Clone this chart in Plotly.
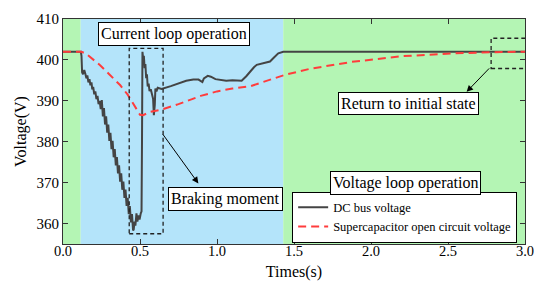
import plotly.graph_objects as go

# DC bus voltage
dc_t = [0.0, 0.116, 0.12, 0.124, 0.13, 0.138, 0.145, 0.152, 0.158, 0.165, 0.172, 0.178, 0.185,
        0.19, 0.196, 0.203, 0.21, 0.217, 0.224, 0.231, 0.238, 0.245,
        0.252, 0.259, 0.266, 0.273, 0.280, 0.287, 0.294, 0.301, 0.308, 0.315, 0.322, 0.329,
        0.336, 0.343, 0.350, 0.357, 0.364, 0.371, 0.378, 0.385, 0.392, 0.399, 0.406, 0.413,
        0.420, 0.427, 0.434, 0.441, 0.448, 0.455,
        0.459, 0.465, 0.47, 0.477, 0.483, 0.49, 0.497, 0.505, 0.51, 0.513, 0.516, 0.52, 0.525,
        0.53, 0.535, 0.54, 0.545, 0.55, 0.556, 0.562, 0.57, 0.578, 0.585, 0.59, 0.596, 0.6,
        0.607, 0.615, 0.64, 0.7, 0.75, 0.8, 0.846, 0.88, 0.905, 0.915, 0.94, 0.96, 0.99, 1.02,
        1.06, 1.1, 1.16, 1.19, 1.214, 1.24, 1.258, 1.3, 1.344, 1.37, 1.398, 1.43, 3.0]
dc_v = [402.0, 402.0, 401.0, 397.0, 396.5, 397.5, 396.6, 395.5, 396.2, 394.5, 395.3, 393.8, 394.5,
        392.8, 393.4, 391.6, 392.3, 390.4, 391.2, 389.2, 390.0, 388.0,
        390.2, 386.2, 388.2, 384.2, 386.2, 382.2, 384.2, 380.2, 382.2, 378.2, 380.2, 376.2,
        378.2, 374.2, 376.25, 372.25, 374.25, 370.25, 372.25, 368.25, 370.25, 366.25, 368.3, 364.3,
        366.3, 362.3, 364.3, 360.3, 362.3, 358.3,
        358.5, 360.5, 359.5, 362.5, 360.5, 362.0, 361.0, 362.5, 363.0, 380.0, 402.0, 400.5, 401.0,
        398.0, 399.0, 395.5, 396.5, 393.5, 394.2, 392.4, 392.8, 391.0, 390.5, 386.5, 389.0, 393.0,
        392.3, 393.2, 392.9, 393.6, 394.3, 394.9, 395.2, 395.2, 394.6, 395.5, 396.1, 395.9, 395.3, 395.1,
        394.9, 395.0, 394.9, 396.0, 397.1, 398.2, 398.8, 399.2, 399.6, 400.6, 401.6, 402.0, 402.0]

# Supercapacitor open circuit voltage
sc_t = [0.0, 0.12, 0.15, 0.2, 0.241, 0.3, 0.372, 0.42, 0.46, 0.5, 0.52, 0.567, 0.644, 0.75,
        0.894, 1.0, 1.1, 1.22, 1.3, 1.437, 1.6, 1.872, 2.2, 2.525, 2.8, 3.0]
sc_v = [402.0, 402.0, 401.5, 400.0, 398.7, 396.5, 393.8, 391.5, 389.0, 386.6, 386.5, 387.3, 387.9,
        389.2, 391.2, 392.3, 393.0, 393.6, 394.6, 396.3, 397.8, 399.5, 400.9, 401.6, 401.9, 402.0]

# operating regions (time, s)
region_edges = [0.0, 0.115, 1.43, 3.0]
region_colors = ["#b4f5b4", "#b4e4fa", "#b4f5b4"]

FONT = "Liberation Serif"

fig = go.Figure()
fig.add_trace(go.Scatter(x=dc_t, y=dc_v, mode="lines", name="DC bus voltage",
                         line=dict(color="#444444", width=2)))
fig.add_trace(go.Scatter(x=sc_t, y=sc_v, mode="lines", name="Supercapacitor open circuit voltage",
                         line=dict(color="#ff3c3c", width=2, dash="8px,5px")))

for i in range(3):
    fig.add_shape(type="rect", xref="x", yref="paper", x0=region_edges[i], x1=region_edges[i + 1],
                  y0=0, y1=1, fillcolor=region_colors[i], line_width=0, layer="below")

# dashed highlight boxes
fig.add_shape(type="rect", x0=0.43, x1=0.65, y0=357.5, y1=402.8,
              line=dict(color="#222222", width=1.3, dash="4px,3px"))
fig.add_shape(type="rect", x0=2.78, x1=3.02, y0=397.9, y1=405.3,
              line=dict(color="#222222", width=1.3, dash="4px,3px"))

box = dict(bgcolor="white", bordercolor="black", borderwidth=1, borderpad=2,
           font=dict(family=FONT, size=16, color="black"))
fig.add_annotation(x=0.72, y=406.4, text="Current loop operation", showarrow=False, **box)
fig.add_annotation(x=1.058, y=365.9, text="Braking moment", showarrow=False, **box)
fig.add_annotation(x=2.227, y=370.0, text="Voltage loop operation", showarrow=False, **box)
fig.add_annotation(x=2.245, y=389.3, text="Return to initial state", showarrow=False, **box)

arrow = dict(text="", showarrow=True, arrowhead=2, arrowsize=1.3, arrowwidth=1,
             arrowcolor="black", axref="x", ayref="y", standoff=0)
fig.add_annotation(x=0.879, y=369.8, ax=0.641, ay=382.2, **arrow)
fig.add_annotation(x=2.621, y=392.2, ax=2.777, ay=398.3, **arrow)

axis_common = dict(showline=True, linecolor="#333333", linewidth=1, mirror="ticks",
                   ticks="inside", ticklen=5, tickcolor="#333333", showgrid=False, zeroline=False,
                   automargin=False)
fig.update_xaxes(range=[0, 3.0], tickvals=[0, 0.5, 1.0, 1.5, 2.0, 2.5, 3.0],
                 ticktext=["0.0", "0.5", "1.0", "1.5", "2.0", "2.5", "3.0"],
                 ticklabelstandoff=-6, ticklabeloverflow="allow",
                 tickfont=dict(family=FONT, size=14.5, color="black"),
                 title=dict(text="Times(s)", font=dict(family=FONT, size=16, color="black"), standoff=7),
                 **axis_common)
fig.update_yaxes(range=[355, 410], tickvals=[360, 370, 380, 390, 400, 410],
                 tickfont=dict(family=FONT, size=15, color="black"),
                 title=dict(text="Voltage(V)", font=dict(family=FONT, size=16, color="black"), standoff=5),
                 **axis_common)

fig.update_layout(
    width=534, height=287,
    margin=dict(l=63, r=9, t=19, b=43),
    paper_bgcolor="white", plot_bgcolor="white",
    showlegend=True,
    legend=dict(x=0.496, y=0.12, xanchor="left", yanchor="middle",
                bgcolor="white", bordercolor="black", borderwidth=1,
                font=dict(family=FONT, size=12.5, color="black"),
                itemwidth=30, tracegroupgap=0),
)

# remove the default page margin so the figure fills the 534x287 window exactly
fig.write_html("out.html", config={"displayModeBar": False},
               post_script="document.body.style.margin='0';document.body.style.overflow='hidden';")
